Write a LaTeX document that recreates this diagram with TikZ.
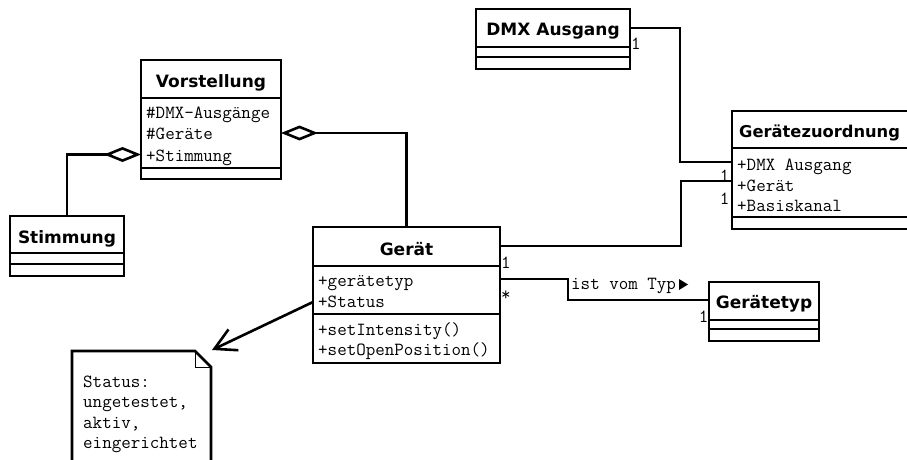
\documentclass[tikz,border=0pt]{standalone}
\usepackage{fontspec}
\usetikzlibrary{arrows.meta}
\newfontfamily\umltitlefam{DejaVu Sans}
\newcommand\umltitle{\umltitlefam\bfseries\fontsize{17}{20}\selectfont}
\newcommand\umlmono{\ttfamily\fontsize{18.5}{21}\selectfont}
\tikzset{
 lw/.style={line width=2.6pt},
 cls/.style={draw, lw, inner sep=0pt, outer sep=0pt, anchor=north west},
 ttl/.style={font=\umltitle, anchor=base, inner sep=0pt},
 attr/.style={font=\umlmono, anchor=base west, inner sep=0pt},
 multl/.style={font=\umlmono, anchor=base west, inner sep=0pt},
 multr/.style={font=\umlmono, anchor=base east, inner sep=0pt},
 conn/.style={lw},
 agg/.style={lw, -{Diamond[open, length=37pt, width=15pt]}},
 thinline/.style={line width=0.8pt},
}
\begin{document}
\begin{tikzpicture}[x=1pt, y=-1pt]
\useasboundingbox (0,0) rectangle (907,460);
\clip (0,0) rectangle (907,460);

% Vorstellung
\node[cls, minimum width=140pt, minimum height=119pt] (vor) at (141,60) {};
\draw[lw] (vor.west |- 0,98) -- (vor.east |- 0,98);
\draw[lw] (vor.west |- 0,168) -- (vor.east |- 0,168);
\node[ttl] (vort) at (211,87) {Vorstellung};
\node[attr] (vora1) at (146,118) {\#DMX-Ausgänge};
\node[attr] (vora2) at (146,139.5) {\#Geräte};
\node[attr] (vora3) at (146,161) {+Stimmung};

% Stimmung
\node[cls, minimum width=114pt, minimum height=60pt] (stim) at (10,216) {};
\draw[lw] (stim.west |- 0,253) -- (stim.east |- 0,253);
\draw[lw] (stim.west |- 0,264) -- (stim.east |- 0,264);
\node[ttl] (stimt) at (67,243) {Stimmung};

% Geraet
\node[cls, minimum width=187pt, minimum height=136pt] (ger) at (313,227) {};
\draw[lw] (ger.west |- 0,266) -- (ger.east |- 0,266);
\draw[lw] (ger.west |- 0,314) -- (ger.east |- 0,314);
\node[ttl] (gert) at (406.5,255) {Gerät};
\node[attr] (gera1) at (318,286) {+gerätetyp};
\node[attr] (gera2) at (318,307) {+Status};
\node[attr] (germ1) at (318,335) {+setIntensity()};
\node[attr] (germ2) at (318,355.5) {+setOpenPosition()};

% DMX Ausgang
\node[cls, minimum width=154pt, minimum height=60pt] (dmx) at (476,9) {};
\draw[lw] (dmx.west |- 0,47) -- (dmx.east |- 0,47);
\draw[lw] (dmx.west |- 0,57) -- (dmx.east |- 0,57);
\node[ttl] (dmxt) at (553,36) {DMX Ausgang};

% Geraetezuordnung
\node[cls, minimum width=188pt, minimum height=118pt] (gz) at (732,111) {};
\draw[lw] (gz.west |- 0,148) -- (gz.east |- 0,148);
\draw[lw] (gz.west |- 0,217) -- (gz.east |- 0,217);
\node[ttl, anchor=base west, font=\umltitlefam\bfseries\fontsize{16.3}{19}\selectfont] (gzt) at (739,137) {Gerätezuordnung};
\node[attr] (gza1) at (737,170.5) {+DMX Ausgang};
\node[attr] (gza2) at (737,191) {+Gerät};
\node[attr] (gza3) at (737,211.5) {+Basiskanal};

% Geraetetyp
\node[cls, minimum width=110pt, minimum height=59pt] (gt) at (709,282) {};
\draw[lw] (gt.west |- 0,320) -- (gt.east |- 0,320);
\draw[lw] (gt.west |- 0,329) -- (gt.east |- 0,329);
\node[ttl] (gtt) at (764,308) {Gerätetyp};

% Note
\node[inner sep=0pt, outer sep=0pt, minimum width=139pt, minimum height=130pt, anchor=north west] (note) at (72,351) {};
\draw[lw] (note.south west) -- (note.north west) -- ([xshift=-16pt]note.north east)
  -- ([yshift=-16pt]note.north east) -- (note.south east);
\draw[thinline] ([xshift=-16pt]note.north east) -- ([xshift=-16pt,yshift=-16pt]note.north east)
  -- ([yshift=-16pt]note.north east);
\node[attr] (nt1) at (83,387) {Status:};
\node[attr] (nt2) at (83,407.5) {ungetestet,};
\node[attr] (nt3) at (83,428) {aktiv,};
\node[attr] (nt4) at (83,448.5) {eingerichtet};

% Connectors
\draw[agg] (stim.north) |- (vor.west |- 0,154.5);
\draw[agg] (ger.north) |- (vor.east |- 0,133);
\draw[conn] (dmx.east |- 0,28) -- (680,28) |- (gz.west |- 0,162);
\draw[conn] (ger.east |- 0,246) -- (681,246) |- (gz.west |- 0,181);
\draw[conn] (ger.east |- 0,279) -- (568,279) |- (gt.west |- 0,300);
\draw[conn, -{Straight Barb[length=21pt, width=23pt]}] (ger.west |- 0,302) -- ([xshift=1pt,yshift=1pt]note.north east);

% Multiplicities and labels
\node[multl] (m1) at (631,49.5) {1};
\node[multr] (m2) at (729.5,181.5) {1};
\node[multr] (m3) at (729.5,204) {1};
\node[multl] (m4) at (501,268) {1};
\node[multl] (m5) at (501,300) {*};
\node[multr] (m6) at (708.5,322) {1};
\node[multl] (lbl) at (571,289) {ist vom Typ};
\fill (679,279) -- (688,284.5) -- (679,290) -- cycle;
\end{tikzpicture}
\end{document}
